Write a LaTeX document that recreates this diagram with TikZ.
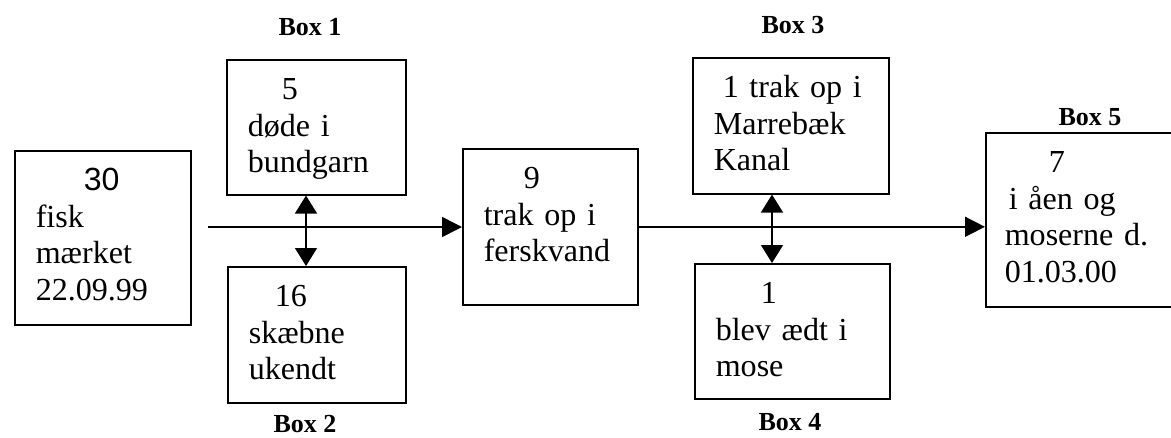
\documentclass[tikz,border=0pt]{standalone}
\usepackage{fontspec}
\setmainfont{Liberation Serif}
\newfontfamily\arialfont{Liberation Sans}
\usetikzlibrary{arrows.meta}
\newcommand\fiskfont{\fontsize{22.8}{26}\selectfont\spaceskip=0.2em\relax}
\newcommand\labfont{\fontsize{18.5}{20}\selectfont\bfseries}
\tikzset{
  box/.style={draw=black,line width=1.1pt,anchor=north west,inner xsep=0.525cm,inner ysep=0pt,
    align=left,text height=1cm,font=\fiskfont},
  lab/.style={inner sep=0pt,font=\labfont},
  flow/.style={draw=black,line width=1.1pt,-{Triangle[length=0.5cm,width=0.5cm]}},
  both/.style={draw=black,line width=1.1pt,{Triangle[length=0.45cm,width=0.55cm]}-{Triangle[length=0.45cm,width=0.55cm]}},
}

\begin{document}
\begin{tikzpicture}[x=0.025cm,y=-0.025cm]
\useasboundingbox (0,0) rectangle (1171,437);
% boxes, top left corners in pixels
\node[box,text width=3.35cm,text depth=3.35cm] (b0) at (14,150)
  {\hspace*{1.2cm}{\arialfont 30}\\fisk\\mærket\\22.09.99};
\node[box,text width=3.425cm,text depth=2.375cm] (b1) at (226,59)
  {\hspace*{0.85cm}5\\døde i\\bundgarn};
\node[box,text width=3.4cm,text depth=2.4cm] (b2) at (227,266)
  {\hspace*{0.65cm}16\\skæbne\\ukendt};
\node[box,text width=3.325cm,text depth=2.9cm] (b3) at (462,148)
  {\hspace*{1cm}9\\trak op i\\ferskvand};
\node[box,text width=3.85cm,text depth=2.4cm] (b4) at (692,57)
  {\hspace*{0.225cm}1 trak op i\\Marrebæk\\Kanal};
\node[box,text width=3.825cm,text depth=2.375cm] (b5) at (694,263)
  {\hspace*{1.125cm}1\\blev ædt i\\mose};
% Box 5 runs past the right edge
\node[box,text width=5cm,text depth=3.35cm,inner xsep=0.475cm] (b6) at (985,132)
  {\hspace*{1.1cm}7\\\hspace*{0.1cm}i åen og\\moserne d.\\01.03.00};
% box labels
\node[lab] (l1) at (310,27) {Box 1};
\node[lab] (l2) at (305,424) {Box 2};
\node[lab] (l3) at (793,25) {Box 3};
\node[lab] (l4) at (790,422) {Box 4};
\node[lab] (l5) at (1090,117) {Box 5};
% connectors
\coordinate (start) at (208,227);
\coordinate (v1) at (306,227);
\coordinate (v2) at (772,225);
\draw[flow] (start) -- (start -| b3.west);
\draw[flow] (b3.east) -- (b3.east -| b6.west);
\draw[both] (v1 |- b1.south) -- (v1 |- b2.north);
\draw[both] (v2 |- b4.south) -- (v2 |- b5.north);
\end{tikzpicture}
\end{document}
